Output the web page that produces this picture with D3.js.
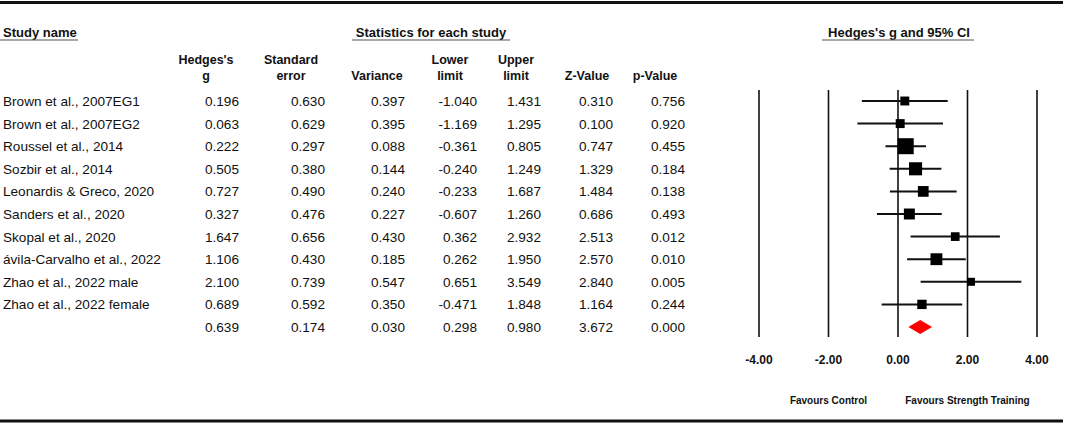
<!DOCTYPE html>
<html>
<head>
<meta charset="utf-8">
<script src="https://cdn.jsdelivr.net/npm/d3@7"></script>
<style>
body { margin: 0; background: #fff; }
text { font-family: "Liberation Sans", Arial, sans-serif; fill: #111; }
</style>
</head>
<body>
<svg id="chart" width="1065" height="424"></svg>
<script>
// study rows
const studies = ['Brown et al., 2007EG1', 'Brown et al., 2007EG2', 'Roussel et al., 2014', 'Sozbir et al., 2014',
    'Leonardis & Greco, 2020', 'Sanders et al., 2020', 'Skopal et al., 2020', 'ávila-Carvalho et al., 2022',
    'Zhao et al., 2022 male', 'Zhao et al., 2022 female']
const hedges = [0.196, 0.063, 0.222, 0.505, 0.727, 0.327, 1.647, 1.106, 2.100, 0.689]
const stderr = [0.630, 0.629, 0.297, 0.380, 0.490, 0.476, 0.656, 0.430, 0.739, 0.592]
const variance = [0.397, 0.395, 0.088, 0.144, 0.240, 0.227, 0.430, 0.185, 0.547, 0.350]
const lower = [-1.040, -1.169, -0.361, -0.240, -0.233, -0.607, 0.362, 0.262, 0.651, -0.471]
const upper = [1.431, 1.295, 0.805, 1.249, 1.687, 1.260, 2.932, 1.950, 3.549, 1.848]
const zval = [0.310, 0.100, 0.747, 1.329, 1.484, 0.686, 2.513, 2.570, 2.840, 1.164]
const pval = [0.756, 0.920, 0.455, 0.184, 0.138, 0.493, 0.012, 0.010, 0.005, 0.244]

// pooled result
const summary = {g: 0.639, se: 0.174, variance: 0.030, lower: 0.298, upper: 0.980, z: 3.672, p: 0.000}

const ticks = [-4, -2, 0, 2, 4]

const svg = d3.select('#chart')
// plain hyphen minus like the original
const loc = d3.formatLocale({decimal: '.', thousands: ',', grouping: [3], currency: ['', ''], minus: '-'})
const f3 = loc.format('.3f')
const f2 = loc.format('.2f')

const rows = studies.map((s, i) => ({
    name: s, g: hedges[i], se: stderr[i], variance: variance[i],
    lower: lower[i], upper: upper[i], z: zval[i], p: pval[i], w: 1 / variance[i]
}))

let y = d3.scaleLinear().domain([0, 10]).range([101, 327])
let x = d3.scaleLinear().domain([-4, 4]).range([759, 1037])
let size = d3.scaleSqrt()
    .domain(d3.extent(rows, d => d.w))
    .range([8, 16])

// frame lines
svg.append('line').attr('x1', 0).attr('x2', 1063).attr('y1', 2.5).attr('y2', 2.5)
    .attr('stroke', '#111').attr('stroke-width', 3)
svg.append('line').attr('x1', 0).attr('x2', 1063).attr('y1', 421).attr('y2', 421)
    .attr('stroke', '#111').attr('stroke-width', 3)

// group headers
let groups = [
    {t: 'Study name', x: 3, anchor: 'start', u: [0, 78]},
    {t: 'Statistics for each study', x: 431, anchor: 'middle', u: [352, 510]},
    {t: "Hedges's g and 95% CI", x: 899, anchor: 'middle', u: [822, 974]}
]
groups.forEach(g => {
    svg.append('text').attr('x', g.x).attr('y', 37).attr('text-anchor', g.anchor)
        .attr('font-size', 13).attr('font-weight', 'bold').text(g.t)
    svg.append('line').attr('x1', g.u[0]).attr('x2', g.u[1]).attr('y1', 40).attr('y2', 40)
        .attr('stroke', '#555').attr('stroke-width', 1.2)
})

// column headers + values
const cols = [
    {h: ["Hedges's", 'g'], c: 206, r: 239, key: 'g'},
    {h: ['Standard', 'error'], c: 291, r: 325, key: 'se'},
    {h: ['', 'Variance'], c: 377, r: 405, key: 'variance'},
    {h: ['Lower', 'limit'], c: 450, r: 477, key: 'lower'},
    {h: ['Upper', 'limit'], c: 516, r: 541, key: 'upper'},
    {h: ['', 'Z-Value'], c: 587, r: 613, key: 'z'},
    {h: ['', 'p-Value'], c: 655, r: 685, key: 'p'}
]
cols.forEach(col => {
    col.h.forEach((line, j) => {
        svg.append('text').attr('x', col.c).attr('y', 64 + j * 16)
            .attr('text-anchor', 'middle').attr('font-size', 12.5).attr('font-weight', 'bold')
            .text(line)
    })
    svg.selectAll(null).data(rows.concat([summary])).join('text')
        .attr('x', col.r).attr('y', (d, i) => y(i) + 5)
        .attr('text-anchor', 'end').attr('font-size', 13.6)
        .text(d => f3(d[col.key]))
})

svg.selectAll('.name').data(rows).join('text')
    .attr('class', 'name')
    .attr('x', 3).attr('y', (d, i) => y(i) + 5)
    .attr('font-size', 13.6)
    .text(d => d.name)

// forest plot
svg.selectAll('.vline').data(ticks).join('line')
    .attr('class', 'vline')
    .attr('x1', d => x(d)).attr('x2', d => x(d))
    .attr('y1', 90).attr('y2', 337)
    .attr('stroke', '#111').attr('stroke-width', 1.6)

svg.selectAll('.tick').data(ticks).join('text')
    .attr('class', 'tick')
    .attr('x', d => x(d)).attr('y', 364)
    .attr('text-anchor', 'middle').attr('font-size', 12).attr('font-weight', 'bold')
    .text(d => f2(d))

svg.selectAll('.ci').data(rows).join('line')
    .attr('class', 'ci')
    .attr('x1', d => x(d.lower)).attr('x2', d => x(d.upper))
    .attr('y1', (d, i) => y(i)).attr('y2', (d, i) => y(i))
    .attr('stroke', '#111').attr('stroke-width', 2)

svg.selectAll('.box').data(rows).join('rect')
    .attr('class', 'box')
    .attr('x', d => x(d.g) - size(d.w) / 2)
    .attr('y', (d, i) => y(i) - size(d.w) / 2)
    .attr('width', d => size(d.w)).attr('height', d => size(d.w))
    .attr('fill', '#000')

let sy = y(10)
svg.append('path')
    .attr('d', `M${x(summary.lower)},${sy} L${x(summary.g)},${sy - 7} L${x(summary.upper)},${sy} L${x(summary.g)},${sy + 7} Z`)
    .attr('fill', '#ff0000')

svg.append('text').attr('x', x(-2)).attr('y', 404).attr('text-anchor', 'middle')
    .attr('font-size', 10).attr('font-weight', 'bold').text('Favours Control')
svg.append('text').attr('x', x(2)).attr('y', 404).attr('text-anchor', 'middle')
    .attr('font-size', 10).attr('font-weight', 'bold').text('Favours Strength Training')
</script>
</body>
</html>
